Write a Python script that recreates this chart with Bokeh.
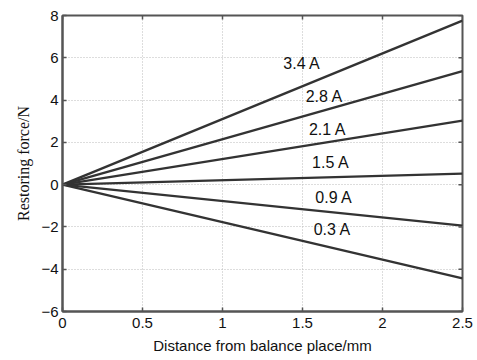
from bokeh.plotting import figure
from bokeh.models import FixedTicker, Label, Range1d
from bokeh.embed import file_html
from bokeh.resources import INLINE

# data
currents = ["3.4 A", "2.8 A", "2.1 A", "1.5 A", "0.9 A", "0.3 A"]
x_vals = [0.0, 2.5]
end_forces = [7.76, 5.37, 3.03, 0.52, -1.94, -4.43]
label_x = [1.38, 1.52, 1.54, 1.56, 1.58, 1.57]
label_y = [5.72, 4.17, 2.62, 1.03, -0.62, -2.13]
x_ticks = [0, 0.5, 1, 1.5, 2, 2.5]
y_ticks = [-6, -4, -2, 0, 2, 4, 6, 8]
x_min, x_max = 0, 2.5
y_min, y_max = -6, 8

p = figure(width=477, height=360, output_backend="svg", toolbar_location=None,
           x_range=Range1d(x_min, x_max), y_range=Range1d(y_min, y_max),
           min_border_left=62, min_border_right=15, min_border_top=15, min_border_bottom=49)
p.background_fill_color = "white"
p.border_fill_color = "white"
p.outline_line_color = "#555555"
p.outline_line_width = 2

p.xgrid.ticker = FixedTicker(ticks=x_ticks)
p.ygrid.ticker = FixedTicker(ticks=y_ticks)
p.grid.grid_line_color = "#bbbbbb"
p.grid.grid_line_dash = "1 2"
p.grid.grid_line_width = 1

for f in end_forces:
    p.line(x_vals, [0.0, f], line_color="#333333", line_width=2.4)

for t, lx, ly in zip(currents, label_x, label_y):
    p.add_layout(Label(x=lx, y=ly, text=t, text_font="Liberation Sans",
                       text_font_size="16px", text_color="#111111",
                       text_baseline="middle", text_align="left"))

# inward ticks on top and right borders (box style)
p.rect(x=x_ticks, y=[y_max] * len(x_ticks), width=1.5, height=8,
       width_units="screen", height_units="screen", fill_color="#555555", line_color=None)
p.rect(x=[x_max] * len(y_ticks), y=y_ticks, width=8, height=1.5,
       width_units="screen", height_units="screen", fill_color="#555555", line_color=None)

p.xaxis.ticker = FixedTicker(ticks=x_ticks)
p.yaxis.ticker = FixedTicker(ticks=y_ticks)
p.xaxis.major_label_overrides = {0: "0", 0.5: "0.5", 1: "1", 1.5: "1.5", 2: "2", 2.5: "2.5"}
for ax in [p.xaxis[0], p.yaxis[0]]:
    ax.axis_line_color = "#555555"
    ax.axis_line_width = 2
    ax.major_tick_in = 4
    ax.major_tick_out = 0
    ax.minor_tick_line_color = None
    ax.major_tick_line_color = "#555555"
    ax.major_tick_line_width = 1.5
    ax.major_label_text_font = "Liberation Sans"
    ax.major_label_text_font_size = "15px"
    ax.major_label_text_color = "#111111"
    ax.axis_label_text_font_style = "normal"
    ax.axis_label_text_color = "#111111"

p.xaxis.axis_label = "Distance from balance place/mm"
p.xaxis.axis_label_text_font = "Liberation Sans"
p.xaxis.axis_label_text_font_size = "15px"
p.xaxis.axis_label_standoff = 6
p.xaxis.major_label_standoff = 6

p.yaxis.axis_label = "Restoring force/N"
p.yaxis.axis_label_text_font = "Liberation Serif"
p.yaxis.axis_label_text_font_size = "16px"
p.yaxis.axis_label_standoff = 6
p.yaxis.major_label_standoff = 4

open("out.html", "w").write(file_html(p, INLINE))
